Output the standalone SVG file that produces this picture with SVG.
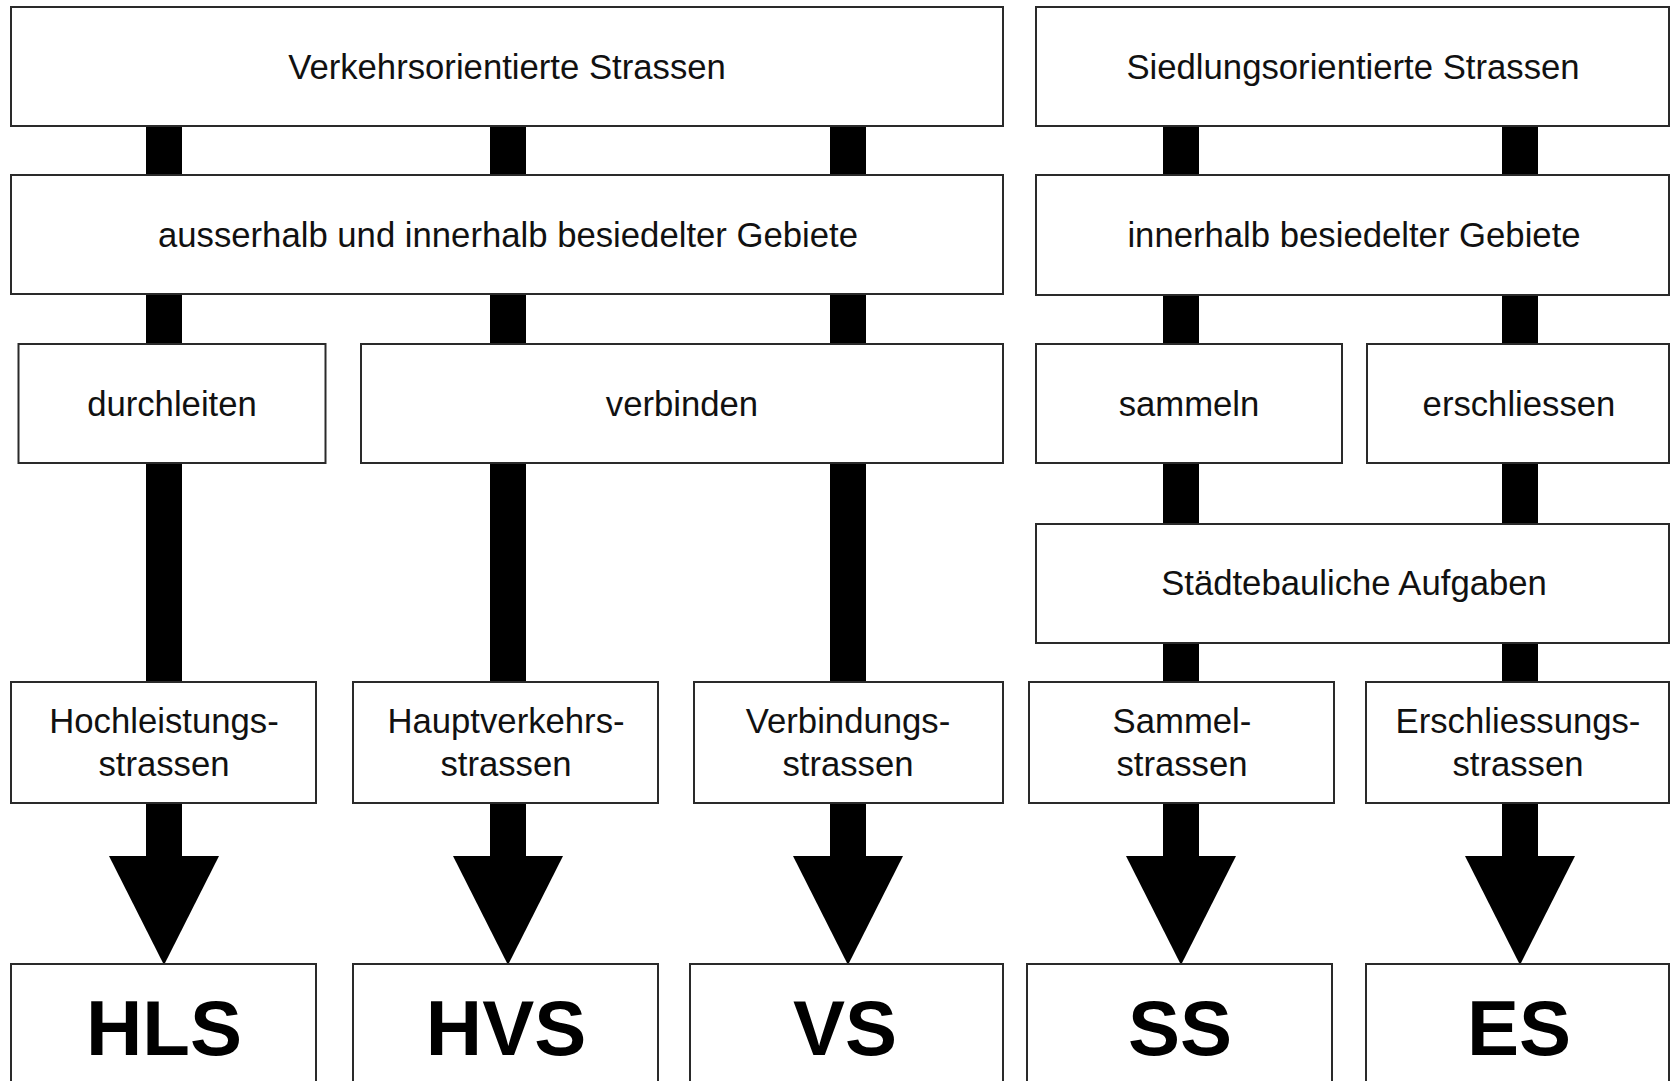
<svg xmlns="http://www.w3.org/2000/svg" width="1671" height="1081" viewBox="0 0 1671 1081">
<style>
.box{fill:#fff;stroke:#2a2a2a;stroke-width:2}
.t{font-family:"Liberation Sans",Arial,sans-serif;font-size:34.7px;fill:#111;text-anchor:middle}
.b{font-family:"Liberation Sans",Arial,sans-serif;font-size:78px;font-weight:bold;fill:#000;text-anchor:middle}
.c{fill:#000}
</style>
<rect width="1671" height="1081" fill="#fff"/>
<g id="connectors" class="c">
  <rect x="146" y="120" width="36" height="60"/>
  <rect x="146" y="290" width="36" height="60"/>
  <rect x="146" y="458" width="36" height="230"/>
  <rect x="146" y="798" width="36" height="60"/>
  <polygon points="109,856 219,856 164,965"/>
  <rect x="490" y="120" width="36" height="60"/>
  <rect x="490" y="290" width="36" height="60"/>
  <rect x="490" y="458" width="36" height="230"/>
  <rect x="490" y="798" width="36" height="60"/>
  <polygon points="453,856 563,856 508,965"/>
  <rect x="830" y="120" width="36" height="60"/>
  <rect x="830" y="290" width="36" height="60"/>
  <rect x="830" y="458" width="36" height="230"/>
  <rect x="830" y="798" width="36" height="60"/>
  <polygon points="793,856 903,856 848,965"/>
  <rect x="1163" y="120" width="36" height="60"/>
  <rect x="1163" y="290" width="36" height="60"/>
  <rect x="1163" y="458" width="36" height="70"/>
  <rect x="1163" y="638" width="36" height="50"/>
  <rect x="1163" y="798" width="36" height="60"/>
  <polygon points="1126,856 1236,856 1181,965"/>
  <rect x="1502" y="120" width="36" height="60"/>
  <rect x="1502" y="290" width="36" height="60"/>
  <rect x="1502" y="458" width="36" height="70"/>
  <rect x="1502" y="638" width="36" height="50"/>
  <rect x="1502" y="798" width="36" height="60"/>
  <polygon points="1465,856 1575,856 1520,965"/>
</g>
<g id="n-verkehr"><rect class="box" x="11" y="7" width="992" height="119"/><text class="t" x="507" y="79">Verkehrsorientierte Strassen</text></g>
<g id="n-siedlung"><rect class="box" x="1036" y="7" width="633" height="119"/><text class="t" x="1353" y="79">Siedlungsorientierte Strassen</text></g>
<g id="n-ausserhalb"><rect class="box" x="11" y="175" width="992" height="119"/><text class="t" x="508" y="247">ausserhalb und innerhalb besiedelter Gebiete</text></g>
<g id="n-innerhalb"><rect class="box" x="1036" y="175" width="633" height="120"/><text class="t" x="1354" y="247">innerhalb besiedelter Gebiete</text></g>
<g id="n-durchleiten"><rect class="box" x="18.5" y="344" width="307" height="119"/><text class="t" x="172" y="416">durchleiten</text></g>
<g id="n-verbinden"><rect class="box" x="361" y="344" width="642" height="119"/><text class="t" x="682" y="416">verbinden</text></g>
<g id="n-sammeln"><rect class="box" x="1036" y="344" width="306" height="119"/><text class="t" x="1189" y="416">sammeln</text></g>
<g id="n-erschliessen"><rect class="box" x="1367" y="344" width="302" height="119"/><text class="t" x="1519" y="416">erschliessen</text></g>
<g id="n-staedtebau"><rect class="box" x="1036" y="524" width="633" height="119"/><text class="t" x="1354" y="595">Städtebauliche Aufgaben</text></g>
<g id="n-hls-label"><rect class="box" x="11" y="682" width="305" height="121"/><text class="t" x="164" y="733">Hochleistungs-</text><text class="t" x="164" y="776">strassen</text></g>
<g id="n-hvs-label"><rect class="box" x="353" y="682" width="305" height="121"/><text class="t" x="506" y="733">Hauptverkehrs-</text><text class="t" x="506" y="776">strassen</text></g>
<g id="n-vs-label"><rect class="box" x="694" y="682" width="309" height="121"/><text class="t" x="848" y="733">Verbindungs-</text><text class="t" x="848" y="776">strassen</text></g>
<g id="n-ss-label"><rect class="box" x="1029" y="682" width="305" height="121"/><text class="t" x="1182" y="733">Sammel-</text><text class="t" x="1182" y="776">strassen</text></g>
<g id="n-es-label"><rect class="box" x="1366" y="682" width="303" height="121"/><text class="t" x="1518" y="733">Erschliessungs-</text><text class="t" x="1518" y="776">strassen</text></g>
<g id="n-hls"><rect class="box" x="11" y="964" width="305" height="130"/><text class="b" x="164" y="1055">HLS</text></g>
<g id="n-hvs"><rect class="box" x="353" y="964" width="305" height="130"/><text class="b" x="506" y="1055">HVS</text></g>
<g id="n-vs"><rect class="box" x="690" y="964" width="313" height="130"/><text class="b" x="845" y="1055">VS</text></g>
<g id="n-ss"><rect class="box" x="1027" y="964" width="305" height="130"/><text class="b" x="1180" y="1055">SS</text></g>
<g id="n-es"><rect class="box" x="1366" y="964" width="303" height="130"/><text class="b" x="1519" y="1055">ES</text></g>
</svg>
